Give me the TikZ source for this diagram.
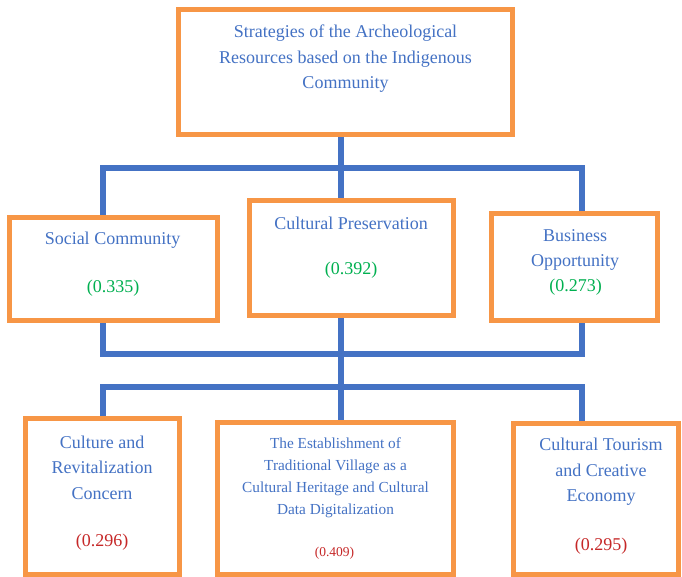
\documentclass[tikz,border=0pt]{standalone}
\usepackage{fontspec}
\setmainfont{Liberation Serif}
\usetikzlibrary{backgrounds}
\definecolor{boxorange}{HTML}{F79646}
\definecolor{lineblue}{HTML}{4472C4}
\definecolor{txtblue}{HTML}{4472C4}
\definecolor{valgreen}{HTML}{00B050}
\definecolor{valred}{HTML}{C62828}
\tikzset{
  box/.style={draw=boxorange, line width=5pt, fill=white, inner sep=0pt},
  conn/.style={draw=lineblue, line width=6pt},
  lbl/.style={text=txtblue, align=center, inner sep=0pt, font=\fontsize{18}{25.5}\selectfont},
  lblsmall/.style={text=txtblue, align=center, inner sep=0pt, font=\fontsize{15.3}{22}\selectfont},
  gval/.style={text=valgreen, inner sep=0pt, font=\fontsize{18}{21}\selectfont},
  rval/.style={text=valred, inner sep=0pt, font=\fontsize{18}{21}\selectfont},
  rvalsmall/.style={text=valred, inner sep=0pt, font=\fontsize{13.5}{16}\selectfont},
}
\begin{document}
\begin{tikzpicture}[x=1pt,y=-1pt]
\useasboundingbox (0,0) rectangle (682,577);
% boxes
\node[box, minimum width=334pt, minimum height=125pt] (top) at (345.5,72) {};
\node[box, minimum width=208pt, minimum height=103pt] (social) at (113.5,269) {};
\node[box, minimum width=204pt, minimum height=115pt] (cp) at (351.5,258) {};
\node[box, minimum width=166pt, minimum height=107pt] (biz) at (574.5,267) {};
\node[box, minimum width=154pt, minimum height=156pt] (crc) at (102.5,496.5) {};
\node[box, minimum width=236pt, minimum height=152pt] (est) at (335.5,498.5) {};
\node[box, minimum width=165pt, minimum height=151pt] (tour) at (596,499) {};
% bus coordinates
\coordinate (b1L) at (103,168);
\coordinate (b1C) at (340.5,168);
\coordinate (b1R) at (582,168);
\coordinate (b2L) at (103,354);
\coordinate (b2R) at (582,354);
\coordinate (b3L) at (103,387);
\coordinate (b3C) at (340.5,387);
\coordinate (b3R) at (582,387);
\begin{pgfonlayer}{background}
\draw[conn] (top.south -| b1C) -- (b1C |- cp.north);
\draw[conn] (b1L |- social.north) -- (b1L) -- (b1R) -- (b1R |- biz.north);
\draw[conn] (b2L |- social.south) -- (b2L) -- (b2R) -- (b2R |- biz.south);
\draw[conn] (cp.south -| b3C) -- (b3C |- est.north);
\draw[conn] (b3L |- crc.north) -- (b3L) -- (b3R) -- (b3R |- tour.north);
\end{pgfonlayer}
% texts
\node[lbl] (toptxt) at (345.5,59) {Strategies of the Archeological\\Resources based on the Indigenous\\Community};
\node[lbl] (socialtxt) at (112.5,240) {Social Community};
\node[gval] (socialval) at (113,288) {(0.335)};
\node[lbl] (cptxt) at (351,223) {Cultural Preservation};
\node[gval] (cpval) at (351,270) {(0.392)};
\node[lbl] (biztxt) at (575,250) {Business\\Opportunity};
\node[gval] (bizval) at (575.5,287) {(0.273)};
\node[lbl] (crctxt) at (102,467.5) {Culture and\\Revitalization\\Concern};
\node[rval] (crcval) at (102,542) {(0.296)};
\node[lblsmall] (esttxt) at (335.5,477.5) {The Establishment of\\Traditional Village as a\\Cultural Heritage and Cultural\\Data Digitalization};
\node[rvalsmall] (estval) at (334.5,553) {(0.409)};
\node[lbl] (tourtxt) at (601,472) {Cultural Tourism\\and Creative\\Economy};
\node[rval] (tourval) at (601,546) {(0.295)};
\end{tikzpicture}
\end{document}
